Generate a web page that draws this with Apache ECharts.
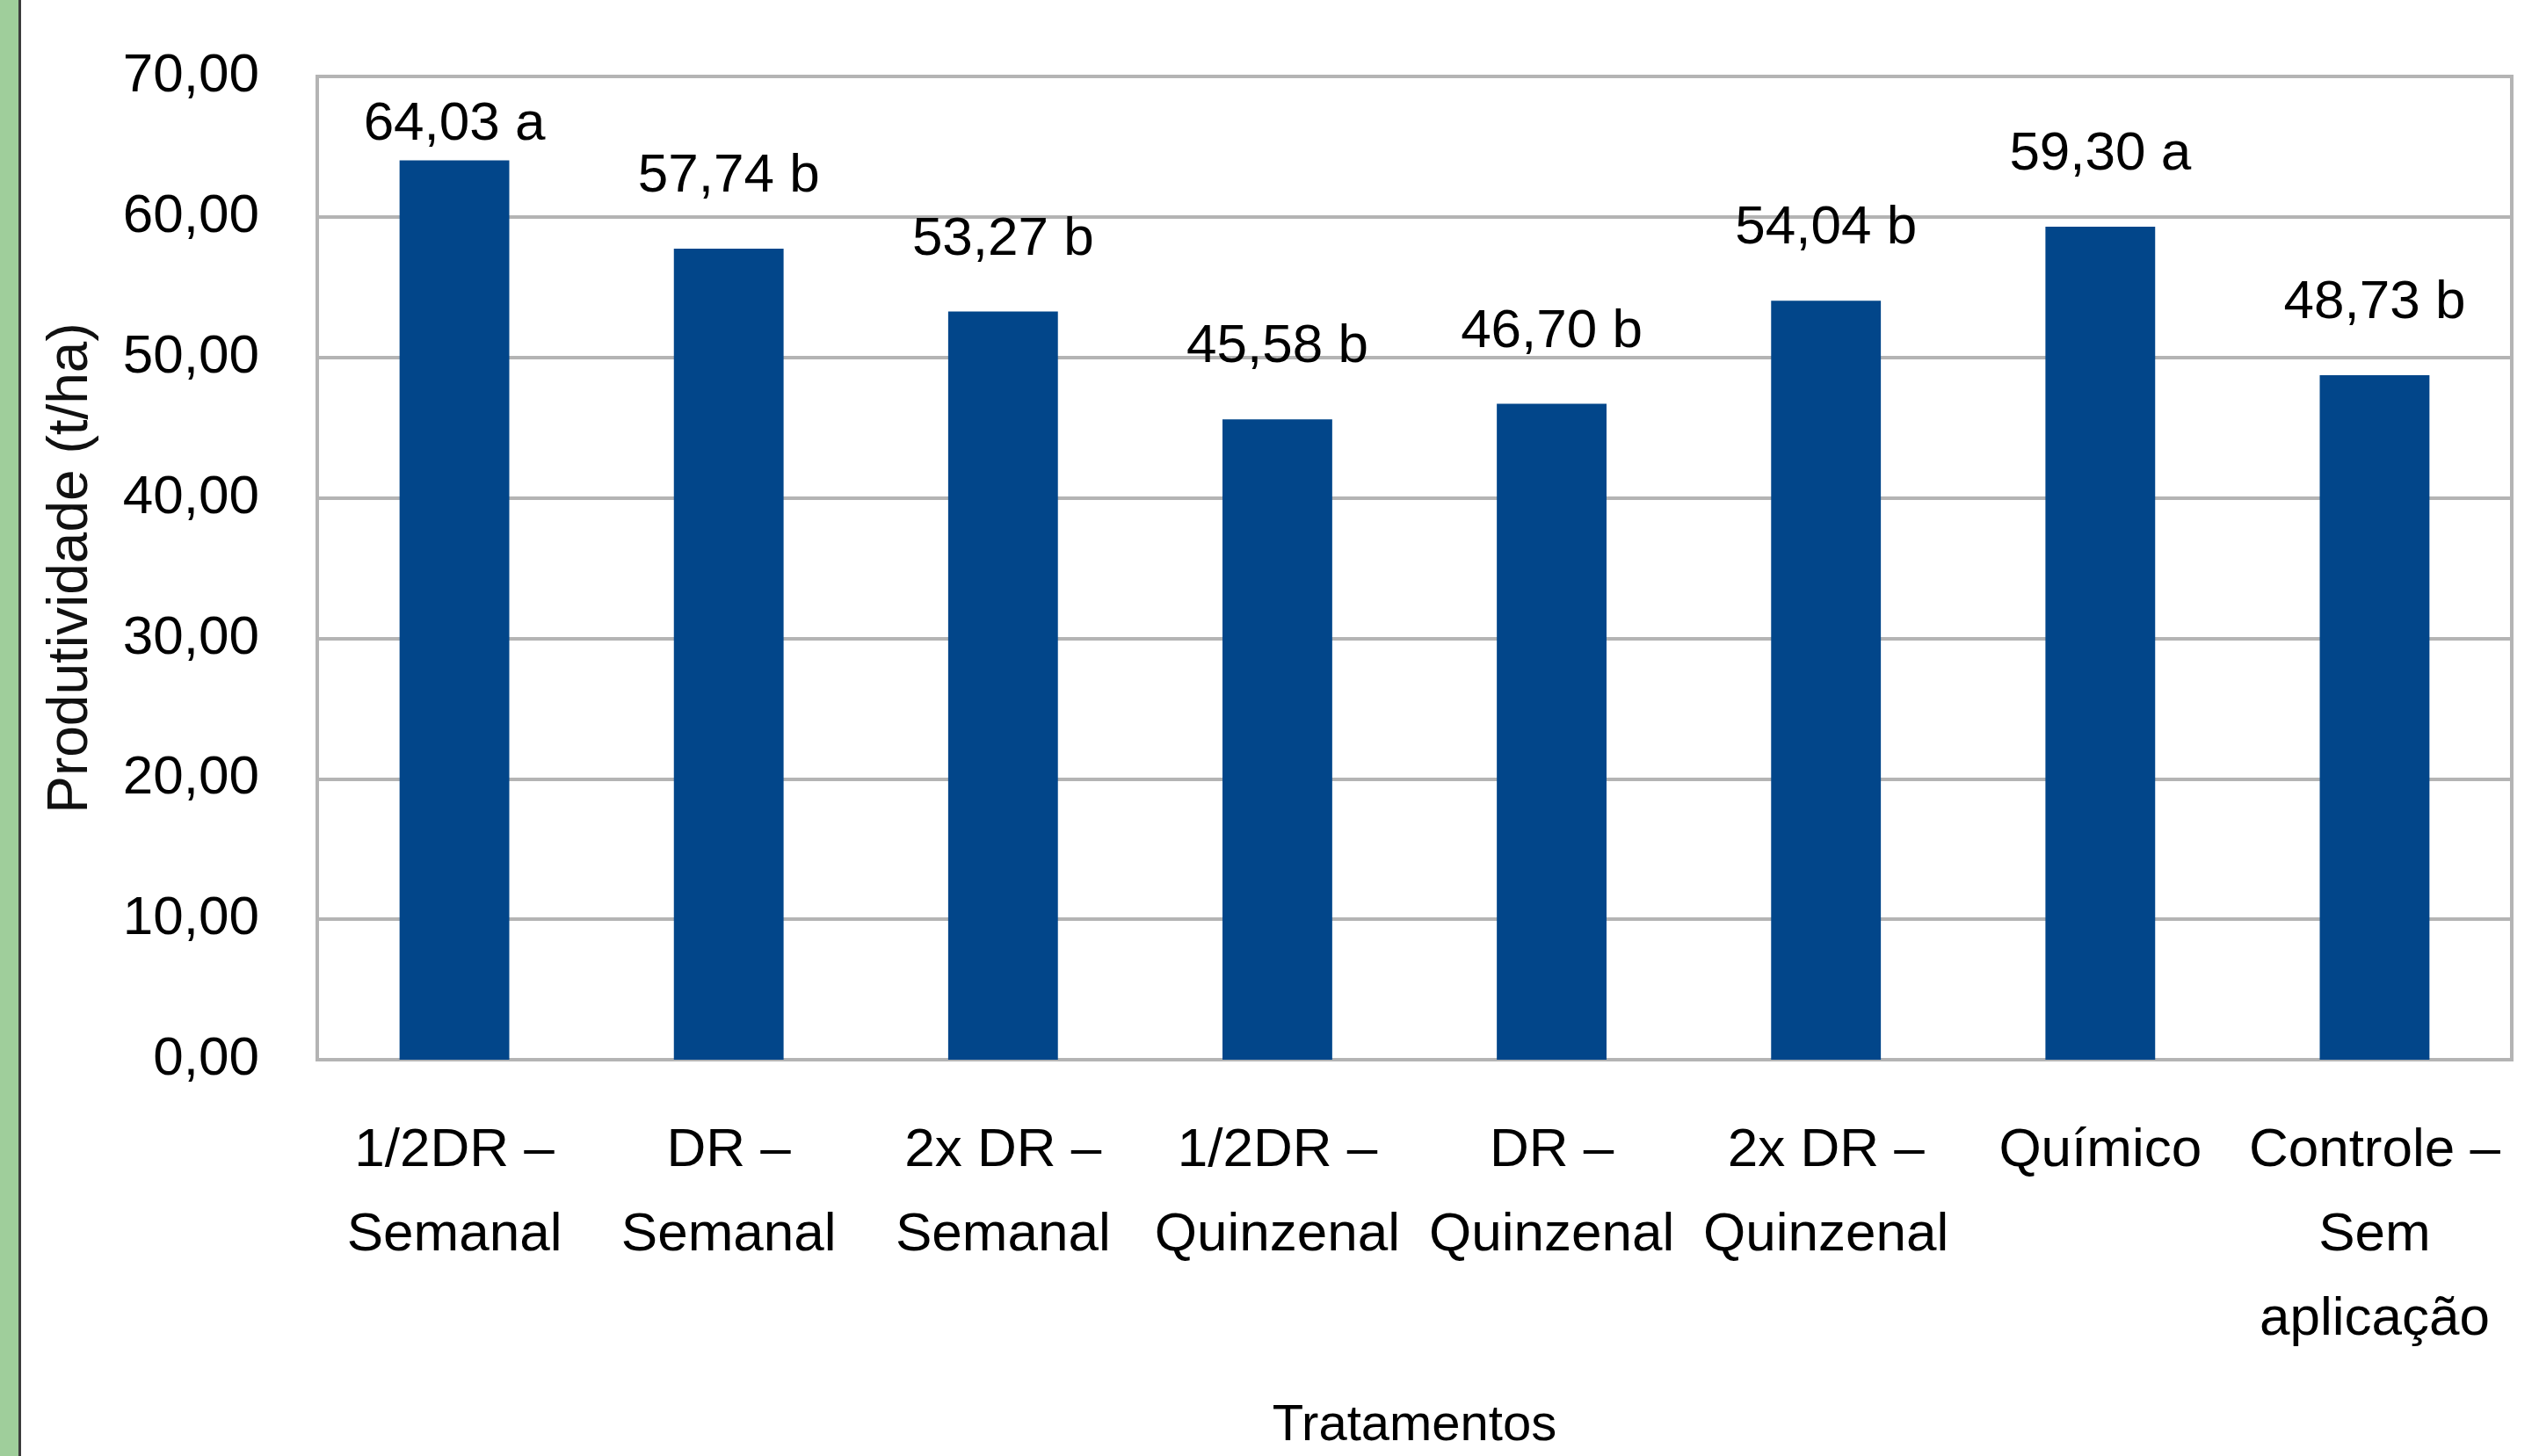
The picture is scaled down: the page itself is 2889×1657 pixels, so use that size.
<!DOCTYPE html>
<html>
<head>
<meta charset="utf-8">
<script src="https://cdn.jsdelivr.net/npm/echarts@6/dist/echarts.min.js"></script>
<style>
html,body{margin:0;padding:0;background:#fff;}
#chart{width:2889px;height:1657px;}
</style>
</head>
<body>
<div id="chart"></div>
<script>
const categories = ['1/2DR –\nSemanal','DR –\nSemanal','2x DR –\nSemanal','1/2DR –\nQuinzenal','DR –\nQuinzenal','2x DR –\nQuinzenal','Químico','Controle –\nSem\naplicação'];
const values = [64.03, 57.74, 53.27, 45.58, 46.70, 54.04, 59.30, 48.73];
const letters = ['a','b','b','b','b','b','a','b'];
const yMin = 0, yMax = 70, yStep = 10;

function hasFont(f){
  const c = document.createElement('canvas').getContext('2d');
  c.font = '72px monospace';
  const a = c.measureText('Quinzenal mmm iii').width;
  c.font = "72px '" + f + "', monospace";
  return c.measureText('Quinzenal mmm iii').width !== a;
}
const narrowOK = hasFont('Liberation Sans Narrow');
const HF = narrowOK ? "'Liberation Sans Narrow'" : "'Liberation Sans'";
const HS = narrowOK ? 76 : 62;
const RF = "'Liberation Sans'";

const fmt = v => v.toFixed(2).replace('.', ',');

const chart = echarts.init(document.getElementById('chart'), null, {renderer:'canvas'});
chart.setOption({
  backgroundColor:'#ffffff',
  animation:false,
  graphic:[
    {type:'rect', left:0, top:0, shape:{x:0,y:0,width:21,height:1657}, style:{fill:'#9FCE9B'}},
    {type:'rect', left:21, top:0, shape:{x:0,y:0,width:3,height:1657}, style:{fill:'#3c3c3c'}}
  ],
  grid:{left:361, right:31, top:87, bottom:450, show:true, borderColor:'#B4B4B4', borderWidth:4, backgroundColor:'transparent'},
  xAxis:{
    type:'category', data:categories,
    name:'Tratamentos', nameLocation:'middle', nameGap:388,
    nameTextStyle:{fontFamily:RF, fontSize:58, color:'#000', lineHeight:58},
    axisLine:{show:true, lineStyle:{color:'#B4B4B4', width:4}},
    axisTick:{show:false},
    axisLabel:{interval:0, margin:56, fontFamily:HF, fontSize:HS, lineHeight:96, color:'#000'}
  },
  yAxis:{
    type:'value', min:yMin, max:yMax, interval:yStep,
    name:'Produtividade (t/ha)', nameLocation:'middle', nameGap:247, nameRotate:90,
    nameTextStyle:{fontFamily:RF, fontSize:64, color:'#111', lineHeight:66},
    axisLine:{show:false}, axisTick:{show:false},
    axisLabel:{margin:66, fontFamily:HF, fontSize:HS, color:'#000', formatter:v=>fmt(v)},
    splitLine:{show:true, lineStyle:{color:'#B4B4B4', width:4}}
  },
  series:[{
    type:'bar',
    data: values.map((v,i)=> i===0 ? {value:v, label:{offset:[0,41]}} : v),
    barWidth:'40%',
    itemStyle:{color:'#02468A'},
    label:{show:true, position:'top', distance:44, fontFamily:HF, fontSize:HS, lineHeight:76, color:'#000',
      formatter:p=>fmt(p.value)+' '+letters[p.dataIndex]}
  }]
});
</script>
</body>
</html>
